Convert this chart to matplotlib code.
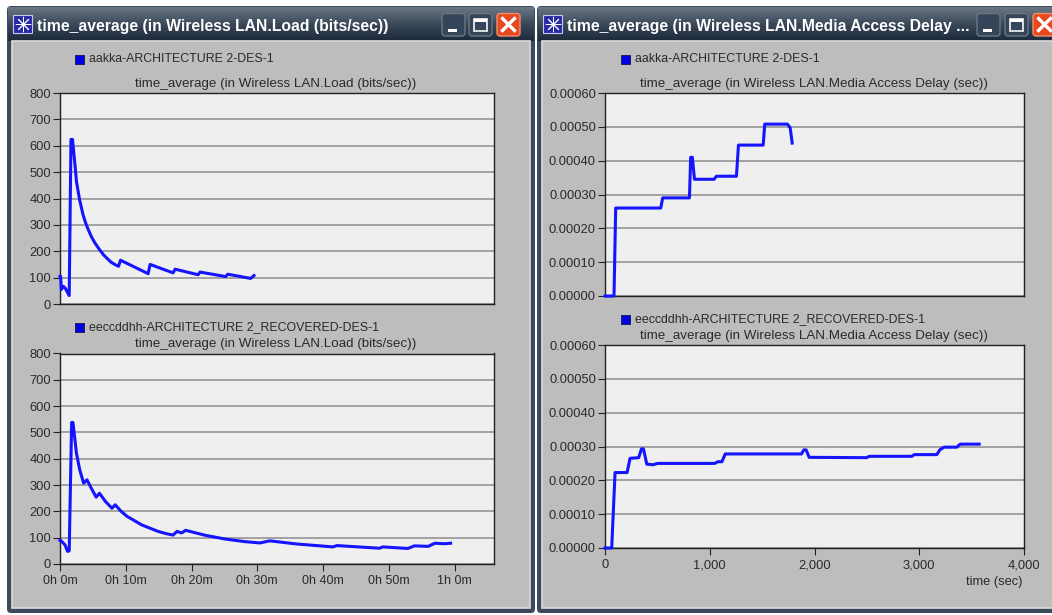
#!/usr/bin/env python3
"""Two OPNET result windows: wireless LAN load and media access delay."""
import matplotlib
matplotlib.use("Agg")
import matplotlib.pyplot as plt
import numpy as np
from matplotlib.colors import LinearSegmentedColormap
from matplotlib.patches import Rectangle, FancyBboxPatch

W, H = 1052, 615
plt.rcParams["font.family"] = ["Liberation Sans", "DejaVu Sans"]

LOAD_TITLE = "time_average (in Wireless LAN.Load (bits/sec))"
DELAY_TITLE = "time_average (in Wireless LAN.Media Access Delay (sec))"
WINDOW_TITLE_R = "time_average (in Wireless LAN.Media Access Delay ..."
RUN_A = "aakka-ARCHITECTURE 2-DES-1"
RUN_B = "eeccddhh-ARCHITECTURE 2_RECOVERED-DES-1"

# load, time in minutes
load_a_t = [0, 0.1, 0.2, 0.5, 0.8, 1.4, 1.67, 1.9, 2.3, 2.5, 2.8, 3.0, 3.5, 3.9, 4.3, 4.8, 5.3, 5.9,
            6.6, 7.2, 7.8, 8.4, 8.9, 9.2, 11.1, 13.4, 13.7, 17.2, 17.5, 21, 21.3, 25.2, 25.5, 29, 29.5]
load_a_v = [105, 105, 55, 67, 60, 32, 624, 624, 522, 465, 421, 393, 339, 307, 282, 254, 232, 210,
            187, 172, 158, 149, 143, 166, 143, 115, 150, 118, 132, 111, 121, 104, 113, 97, 108]
load_b_t = [0, 0.1, 0.75, 1.15, 1.4, 1.77, 1.97, 2.5, 3.0, 3.6, 4.1, 4.8, 5.5, 6.0, 6.9, 7.9, 8.4,
            9.3, 10.2, 11.1, 12.4, 13.6, 14.9, 16.2, 17.2, 17.8, 18.5, 19.1, 22.1, 25.1, 28.1, 30.4,
            31.9, 36, 41.5, 42.1, 48.6, 49.1, 52.9, 53.9, 56, 57, 58.5, 59.4]
load_b_v = [90, 90, 73, 48, 50, 538, 538, 421, 358, 307, 320, 286, 254, 269, 238, 212, 225,
            200, 181, 168, 149, 137, 124, 115, 110, 124, 118, 128, 109, 95, 85, 80,
            88, 76, 65, 70, 60, 65, 59, 69, 67, 79, 77, 79]
# media access delay, time in seconds
delay_a_t = [0, 86, 102, 532, 551, 806, 818, 834, 854, 1041, 1064, 1255, 1274, 1510, 1525, 1742, 1768, 1787]
delay_a_v = [0, 0, .00026, .00026, .00029, .00029, .00041, .00041, .000345, .000345,
             .000354, .000354, .000446, .000446, .000508, .000508, .000497, .000452]
delay_b_t = [0, 64, 96, 211, 239, 322, 348, 367, 399, 456, 504, 1046, 1078, 1116, 1148, 1876, 1898,
             1920, 1949, 2498, 2523, 2928, 2954, 3167, 3199, 3238, 3359, 3391, 3572]
delay_b_v = [0, 0, .000223, .000223, .000265, .000267, .000293, .000293, .000248, .000246, .00025,
             .00025, .000255, .000255, .000278, .000278, .00029, .00029, .000268, .000267, .000271,
             .000271, .000276, .000276, .000291, .000298, .000298, .000307, .000307]

load_ticks = [0, 100, 200, 300, 400, 500, 600, 700, 800]
delay_ticks = [0, .0001, .0002, .0003, .0004, .0005, .0006]
minute_ticks = [0, 10, 20, 30, 40, 50, 60]
minute_labels = ["0h 0m", "0h 10m", "0h 20m", "0h 30m", "0h 40m", "0h 50m", "1h 0m"]
sec_ticks = [0, 1000, 2000, 3000, 4000]
sec_labels = ["0", "1,000", "2,000", "3,000", "4,000"]

GRAY = "#bdbdbd"
PLOT_BG = "#efefef"
BLUE = "#1414ff"
TEXT = "#2a2a2a"
BAR = LinearSegmentedColormap.from_list("bar", ["#6a7683", "#3a4858", "#1c2a3c"])

fig = plt.figure(figsize=(W / 100, H / 100), dpi=100, facecolor="white")
bg = fig.add_axes([0, 0, 1, 1], zorder=0)
bg.axis("off")


def window(x0, x1, title, btn_x):
    """Window frame, title bar and the three caption buttons."""
    bg.add_patch(FancyBboxPatch((x0, 6), x1 - x0, H - 6 - 2, boxstyle="round,pad=0,rounding_size=4",
                                fc="#3a4a5c", ec="none", zorder=0.5))
    grad = np.linspace(0, 1, 32)[:, None]
    bg.imshow(grad, extent=(x0 + 1, x1 - 1, 41, 7), cmap=BAR, aspect="auto", zorder=1)
    bg.add_patch(Rectangle((x0 + 5, 41), x1 - x0 - 10, 567, fc=GRAY, ec="#dcdcdc", lw=1.2, zorder=2))
    # star icon
    bg.add_patch(Rectangle((x0 + 6, 15), 19, 18, fc="#2a2aa8", ec="#c8c8e8", lw=0.8, zorder=3))
    bg.plot([x0 + 15.5], [24], marker=(8, 2, 0), ms=11, mew=0.7, color="white", zorder=4)
    bg.text(x0 + 30, 26, title, color="white", fontsize=11.3, fontweight="bold",
            va="center", ha="left", zorder=4)
    for i, fc in enumerate(["#36465a", "#36465a", "#e8481e"]):
        bg.add_patch(FancyBboxPatch((btn_x[i], 13.5), 23, 22.5, boxstyle="round,pad=0,rounding_size=3",
                                    fc=fc, ec="#6a7682" if i < 2 else "#f09070", lw=1, zorder=3))
    bg.add_patch(Rectangle((btn_x[0] + 6, 29), 9, 3, fc="white", zorder=4))
    bg.add_patch(Rectangle((btn_x[1] + 5, 19), 13, 12, fc="none", ec="#e8e8e8", lw=1.3, zorder=4))
    bg.add_patch(Rectangle((btn_x[1] + 5, 19), 13, 2.5, fc="white", zorder=4))
    cx, cy = btn_x[2] + 11.5, 24.5
    bg.plot([cx - 6, cx + 6], [cy - 6, cy + 6], color="white", lw=2.4, zorder=4)
    bg.plot([cx - 6, cx + 6], [cy + 6, cy - 6], color="white", lw=2.4, zorder=4)


window(7, 535, LOAD_TITLE, [442, 469, 497])
window(537, 1060, WINDOW_TITLE_R, [977, 1005, 1033])
bg.set_xlim(0, W)
bg.set_ylim(H, 0)


def panel(x0, x1, y0, y1, t, v, xlim, yticks, ylabels, ylim, title, run, run_x, run_y, title_y,
          xticks=None, xlabels=None, xfs=9.3):
    ax = fig.add_axes([x0 / W, 1 - y1 / H, (x1 - x0) / W, (y1 - y0) / H], zorder=2)
    ax.set_facecolor(PLOT_BG)
    ax.plot(t, v, color=BLUE, lw=2.2, solid_joinstyle="round", zorder=3, clip_on=False)
    ax.set_xlim(*xlim)
    ax.set_ylim(*ylim)
    ax.set_yticks(yticks, ylabels)
    ax.grid(axis="y", color="#8c8c8c", lw=1.1)
    ax.set_axisbelow(True)
    ax.tick_params(axis="y", length=5, width=0.8, color="#222222", labelsize=9.3, labelcolor=TEXT, pad=1.5)
    if xticks is not None:
        ax.set_xticks(xticks, xlabels)
        ax.tick_params(axis="x", length=5, width=0.8, color="#222222", labelsize=xfs, labelcolor=TEXT, pad=3)
    else:
        ax.set_xticks([])
    for s in ax.spines.values():
        s.set_color("#222222")
        s.set_linewidth(1.0)
    fig.text(((x0 + x1) / 2 - 1) / W, 1 - title_y / H, title, fontsize=9.65, color=TEXT,
             ha="center", va="center", zorder=5)
    # legend swatch and scenario name
    bg.add_patch(Rectangle((run_x, run_y - 4.5), 9, 9.5, fc="#0000e0", ec="#202060", lw=0.7, zorder=5))
    fig.text((run_x + 14) / W, 1 - (run_y + 0.5) / H, run, fontsize=8.9, color=TEXT, ha="left", va="center", zorder=5)
    return ax


load_lab = [str(n) for n in load_ticks]
delay_lab = [f"{n:.5f}" for n in delay_ticks]
panel(60, 494, 93, 304, load_a_t, load_a_v, (0, 66), load_ticks, load_lab, (0, 800),
      LOAD_TITLE, RUN_A, 75, 59, 84)
panel(60, 494, 353.5, 564, load_b_t, load_b_v, (0, 66), load_ticks, load_lab, (0, 800),
      LOAD_TITLE, RUN_B, 75, 327, 344, minute_ticks, minute_labels, xfs=9)
panel(605, 1024, 93, 296, delay_a_t, delay_a_v, (0, 4000), delay_ticks, delay_lab, (0, .0006),
      DELAY_TITLE, RUN_A, 621, 59, 84)
panel(605, 1024, 345, 548, delay_b_t, delay_b_v, (0, 4000), delay_ticks, delay_lab, (0, .0006),
      DELAY_TITLE, RUN_B, 621, 319, 336, sec_ticks, sec_labels)
fig.text(1022 / W, 1 - 582 / H, "time (sec)", fontsize=9.3, color=TEXT, ha="right", va="center", zorder=5)

fig.savefig("out.png", dpi=100)
